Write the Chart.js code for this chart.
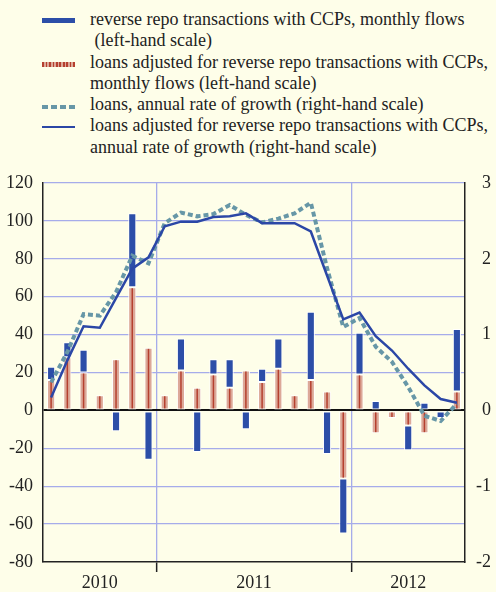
<!DOCTYPE html>
<html>
<head>
<meta charset="utf-8">
<script src="https://cdn.jsdelivr.net/npm/chart.js@4.4.1/dist/chart.umd.min.js"></script>
<style>
  body { margin: 0; background: #fefee9; width: 496px; height: 592px; overflow: hidden; position: relative; font-family: "Liberation Serif", "Times New Roman", serif; color: #222; }
  #legend { position: absolute; left: 90px; top: 9px; font-size: 18px; line-height: 21.3px; white-space: pre; }
  .sw { position: absolute; left: 42px; width: 33px; }
  #box { position: absolute; left: 0; top: 160px; width: 496px; height: 432px; }
</style>
</head>
<body>
<div class="sw" style="top:18px;height:5px;background:#2c4ea8"></div>
<div class="sw" style="top:62px;height:5px;background:repeating-linear-gradient(90deg,#b5402f 0 1.5px,#dca898 1.5px 3.5px)"></div>
<div class="sw" style="top:105px;height:4px;background:repeating-linear-gradient(90deg,#6797a7 0 6px,transparent 6px 9px)"></div>
<div class="sw" style="top:126px;height:2px;background:#2b47a6"></div>
<div id="legend">reverse repo transactions with CCPs, monthly flows
 (left-hand scale)
loans adjusted for reverse repo transactions with CCPs,
monthly flows (left-hand scale)
loans, annual rate of growth (right-hand scale)
loans adjusted for reverse repo transactions with CCPs,
annual rate of growth (right-hand scale)</div>
<div id="box"><canvas id="chart"></canvas></div>
<script>
// months Jun 2010 - Jul 2012
const months = ['Jun 10', 'Jul 10', 'Aug 10', 'Sep 10', 'Oct 10', 'Nov 10', 'Dec 10',
  'Jan 11', 'Feb 11', 'Mar 11', 'Apr 11', 'May 11', 'Jun 11', 'Jul 11', 'Aug 11', 'Sep 11', 'Oct 11', 'Nov 11', 'Dec 11',
  'Jan 12', 'Feb 12', 'Mar 12', 'Apr 12', 'May 12', 'Jun 12', 'Jul 12'];
const years = ['2010', '2011', '2012'];
const yearCentres = [3, 12.5, 22];

// monthly flows, left-hand scale
const loansAdjFlows = [16, 28, 20, 8, 27, 65, 33,
  8, 21, 12, 19, 12, 21, 15, 22, 8, 16, 10, -36,
  19, -12, -4, -8, -12, null, 10];
const repoFlows = [7, 8, 12, null, -11, 39, -26,
  -1, 17, -22, 8, 15, -10, 7, 16, null, 36, -23, -29,
  22, 5, null, -13, 4, -4, 33];

// annual growth rates, right-hand scale
const loansGrowth = [0.37, 0.77, 1.27, 1.25, 1.56, 2.04, 1.94,
  2.47, 2.61, 2.56, 2.59, 2.71, 2.58, 2.48, 2.53, 2.60, 2.74, 1.88, 1.10,
  1.22, 0.84, 0.64, 0.31, -0.07, -0.14, 0.09];
const loansAdjGrowth = [0.17, 0.66, 1.11, 1.09, 1.48, 1.87, 2.02,
  2.43, 2.49, 2.49, 2.55, 2.56, 2.60, 2.47, 2.47, 2.47, 2.36, 1.78, 1.20,
  1.29, 0.98, 0.79, 0.55, 0.33, 0.15, 0.10];

const GRID = '#a6acea';
const INK = '#222';

Chart.defaults.font.family = '"Liberation Serif", "Times New Roman", serif';
Chart.defaults.font.size = 18;
Chart.defaults.color = INK;

// thin dark red line down the middle of each adjusted-loans bar
const stripe = {
  id: 'stripe',
  afterDatasetDraw(chart, args) {
    if (args.index !== 0) return;
    const ctx = chart.ctx;
    ctx.save();
    ctx.strokeStyle = '#b5402f';
    ctx.lineWidth = 1.5;
    args.meta.data.forEach((bar, i) => {
      if (loansAdjFlows[i] === null) return;
      const dir = bar.base > bar.y ? 1 : -1;
      ctx.beginPath();
      ctx.moveTo(bar.x, bar.y + dir);
      ctx.lineTo(bar.x, bar.base - dir);
      ctx.stroke();
    });
    ctx.restore();
  }
};

const yearLabels = {
  id: 'yearLabels',
  afterDraw(chart) {
    const ctx = chart.ctx;
    const x = chart.scales.x;
    ctx.save();
    ctx.font = '18px "Liberation Serif", serif';
    ctx.fillStyle = INK;
    ctx.textAlign = 'center';
    ctx.textBaseline = 'middle';
    years.forEach((y, i) => ctx.fillText(y, x.getPixelForValue(yearCentres[i]), x.bottom - 9));
    ctx.restore();
  }
};

new Chart(document.getElementById('chart'), {
  data: {
    labels: months,
    datasets: [
      {
        type: 'bar',
        label: 'loans adjusted for reverse repo transactions with CCPs, monthly flows (left-hand scale)',
        data: loansAdjFlows,
        backgroundColor: '#dca898',
        borderColor: '#fff',
        borderWidth: 1,
        borderSkipped: false,
        barPercentage: 0.5,
        categoryPercentage: 1,
        yAxisID: 'y',
        order: 2
      },
      {
        type: 'bar',
        label: 'reverse repo transactions with CCPs, monthly flows (left-hand scale)',
        data: repoFlows,
        backgroundColor: '#2c4ea8',
        borderColor: '#fff',
        borderWidth: 1,
        borderSkipped: false,
        barPercentage: 0.5,
        categoryPercentage: 1,
        yAxisID: 'y',
        order: 2
      },
      {
        type: 'line',
        label: 'loans, annual rate of growth (right-hand scale)',
        data: loansGrowth,
        borderColor: '#6797a7',
        borderWidth: 4,
        borderDash: [5, 3],
        pointRadius: 0,
        yAxisID: 'y1',
        order: 1
      },
      {
        type: 'line',
        label: 'loans adjusted for reverse repo transactions with CCPs, annual rate of growth (right-hand scale)',
        data: loansAdjGrowth,
        borderColor: '#2b47a6',
        borderWidth: 2.5,
        pointRadius: 0,
        yAxisID: 'y1',
        order: 0
      }
    ]
  },
  options: {
    responsive: true,
    maintainAspectRatio: false,
    animation: false,
    layout: { padding: { top: 23, right: 5, left: 0, bottom: 0 } },
    plugins: { legend: { display: false }, tooltip: { enabled: false } },
    scales: {
      x: {
        stacked: true,
        afterFit(s) { s.height = 30; },
        ticks: { display: false, autoSkip: false },
        border: { color: INK, width: 1.5 },
        grid: {
          offset: true,
          tickLength: 10,
          color: c => (c.index === 7 || c.index === 19) ? GRID : 'rgba(0,0,0,0)',
          tickColor: c => (c.index === 7 || c.index === 19) ? INK : 'rgba(0,0,0,0)',
          lineWidth: 1.3,
          tickWidth: 1.5
        }
      },
      y: {
        stacked: true,
        position: 'left',
        min: -80,
        max: 120,
        afterFit(s) { s.width = 43; },
        ticks: { stepSize: 20, padding: 10 },
        border: { color: INK, width: 1.5 },
        grid: {
          drawTicks: false,
          color: c => c.tick.value === 0 ? '#111' : (c.tick.value === -80 ? 'rgba(0,0,0,0)' : GRID),
          lineWidth: c => c.tick.value === 0 ? 2 : 1.3
        }
      },
      y1: {
        position: 'right',
        min: -2,
        max: 3,
        afterFit(s) { s.width = 26; },
        ticks: { stepSize: 1, crossAlign: 'far' },
        border: { color: INK, width: 1.5 },
        grid: { display: false, drawTicks: false }
      }
    }
  },
  plugins: [stripe, yearLabels]
});
</script>
</body>
</html>
